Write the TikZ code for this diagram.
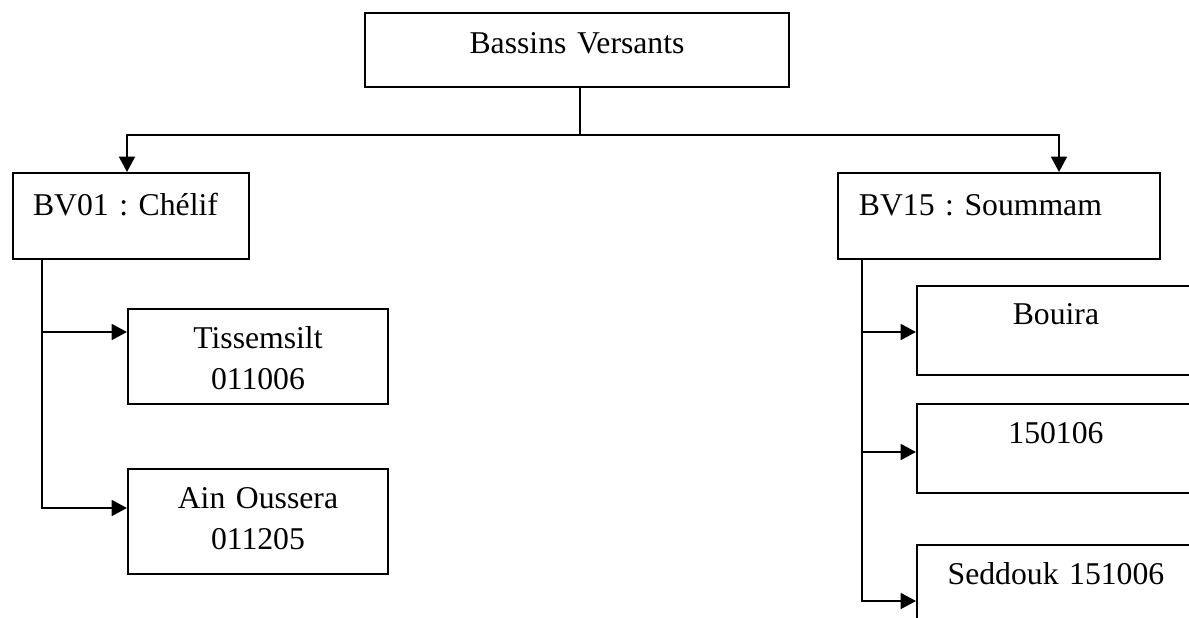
\documentclass[tikz,border=0pt]{standalone}
\usepackage{fontspec}
\setmainfont{Liberation Serif}
\usetikzlibrary{arrows.meta}
\frenchspacing
\begin{document}
\begin{tikzpicture}[x=0.3785pt, y=-0.3785pt,
    box/.style={draw, line width=0.75pt, rectangle, inner sep=0pt, anchor=north west,
                align=center, font=\fontsize{12}{15.5}\selectfont},
    arr/.style={line width=0.75pt, -{Triangle[length=5.8pt,width=6pt]}},
    lnk/.style={line width=0.75pt}]
    \useasboundingbox (0,0) rectangle (1189,617);

    % Racine
    \node[box, text width=160.5pt, minimum height=28pt, text height=15.5pt, text depth=12.5pt]
        (racine) at (364,12) {Bassins Versants};

    % Bassins versants
    \node[box, align=left, inner xsep=7.6pt, text width=74pt, text height=15.9pt, text depth=16.6pt]
        (chelif) at (12,172) {BV01 : Chélif};
    \node[box, align=left, inner xsep=7.9pt, text width=106pt, text height=15.9pt, text depth=16.6pt]
        (soummam) at (837,172) {BV15 : Soummam};

    % Stations Chélif
    \node[box, text width=98.4pt, text height=15.1pt, text depth=20.8pt]
        (tissemsilt) at (127,308) {Tissemsilt\\011006};
    \node[box, text width=98.4pt, text height=15.1pt, text depth=24.6pt]
        (ainoussera) at (127,468) {Ain Oussera\\011205};

    % Stations Soummam
    \node[box, text width=105.2pt, text height=14.4pt, text depth=19.3pt]
        (bouira) at (916,285) {Bouira};
    \node[box, text width=105.2pt, text height=15.1pt, text depth=18.5pt]
        (sta150106) at (916,403) {150106};
    \node[box, text width=105.2pt, text height=15.1pt, text depth=21.2pt]
        (seddouk) at (916,544) {Seddouk 151006};

    % Points de branchement
    \coordinate (split) at (580,135);
    \coordinate (dropL) at (127,135);
    \coordinate (dropR) at (1059,135);
    \coordinate (trunkL) at (42,0);
    \coordinate (trunkR) at (862,0);
    \coordinate (inTiss) at (127,332);
    \coordinate (inAin) at (127,508);
    \coordinate (inBouira) at (916,332);
    \coordinate (inSta) at (916,452);
    \coordinate (inSed) at (916,601);

    \draw[lnk] (racine.south -| split) -- (split);
    \draw[arr] (split) -| (dropL |- chelif.north);
    \draw[arr] (split) -| (dropR |- soummam.north);

    \draw[arr] (chelif.south -| trunkL) |- (inAin);
    \draw[arr] (trunkL |- inTiss) -- (inTiss);

    \draw[arr] (soummam.south -| trunkR) |- (inSed);
    \draw[arr] (trunkR |- inBouira) -- (inBouira);
    \draw[arr] (trunkR |- inSta) -- (inSta);
\end{tikzpicture}
\end{document}
